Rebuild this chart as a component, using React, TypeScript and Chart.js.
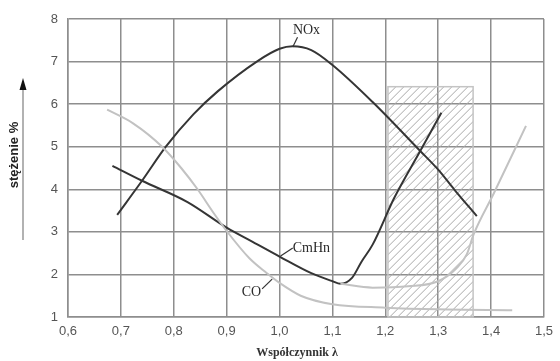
import { useEffect, useRef } from 'react';
import { Chart, registerables } from 'chart.js';
Chart.register(...registerables);

// ---- data ----
const xRange = [0.6, 1.5];
const yRange = [1, 8];

const noxX = [0.693, 0.74, 0.785, 0.837, 0.883, 0.957, 1.0, 1.025, 1.06, 1.1, 1.176, 1.266, 1.3, 1.33, 1.373];
const noxY = [3.4, 4.2, 5.0, 5.76, 6.3, 7.0, 7.3, 7.36, 7.27, 6.92, 6.05, 4.9, 4.46, 4.0, 3.37];

const cmhnX = [0.684, 0.74, 0.826, 0.9, 0.95, 1.0, 1.06, 1.1, 1.115, 1.137, 1.155, 1.176, 1.217, 1.266, 1.306];
const cmhnY = [4.55, 4.2, 3.7, 3.1, 2.76, 2.42, 2.03, 1.84, 1.78, 1.92, 2.3, 2.7, 3.8, 4.9, 5.8];

const coX = [0.674, 0.723, 0.778, 0.814, 0.845, 0.875, 0.9, 0.943, 0.976, 1.0, 1.04, 1.1, 1.2, 1.3, 1.44];
const coY = [5.87, 5.55, 5.0, 4.5, 4.0, 3.45, 3.02, 2.38, 2.03, 1.8, 1.5, 1.3, 1.22, 1.18, 1.16];

const leanX = [1.115, 1.176, 1.243, 1.3, 1.335, 1.354, 1.367, 1.405, 1.466];
const leanY = [1.78, 1.69, 1.72, 1.84, 2.15, 2.47, 2.94, 3.9, 5.49];

const hatchX = [1.205, 1.366];
const hatchY = [1, 6.41];

const labelTexts = ['NOx', 'CmHn', 'CO'];
const labelX = [1.051, 1.025, 0.947];
const labelY = [7.74, 2.62, 1.57];
const labelAlign = ['center', 'left', 'center'];
const leaderFromX = [1.025, 1.002, 0.967];
const leaderFromY = [7.34, 2.43, 1.66];
const leaderToX = [1.034, 1.025, 0.986];
const leaderToY = [7.57, 2.62, 1.89];

const xTitle = 'Współczynnik λ';
const yTitle = 'stężenie %';

const pts = (xs: number[], ys: number[]) => xs.map((x, i) => ({ x, y: ys[i] }));

const annotations = {
  id: 'annotations',
  beforeDatasetsDraw(chart: any) {
    const { ctx, scales } = chart;
    const x = scales.x, y = scales.y;
    const l = x.getPixelForValue(hatchX[0]);
    const r = x.getPixelForValue(hatchX[1]);
    const t = y.getPixelForValue(hatchY[1]);
    const b = y.getPixelForValue(hatchY[0]);
    ctx.save();
    ctx.beginPath();
    ctx.rect(l, t, r - l, b - t);
    ctx.clip();
    ctx.strokeStyle = '#a8a8a8';
    ctx.lineWidth = 1;
    ctx.beginPath();
    const h = b - t;
    for (let s = l - h; s < r + 8; s += 8) {
      ctx.moveTo(s, b);
      ctx.lineTo(s + h, t);
    }
    ctx.stroke();
    ctx.restore();
    ctx.save();
    ctx.strokeStyle = '#c4c4c4';
    ctx.lineWidth = 1.5;
    ctx.strokeRect(l, t, r - l, b - t);
    ctx.restore();
  },
  afterDatasetsDraw(chart: any) {
    const { ctx, scales } = chart;
    const x = scales.x, y = scales.y;
    ctx.save();
    ctx.strokeStyle = '#333';
    ctx.lineWidth = 1.2;
    for (let i = 0; i < labelTexts.length; i++) {
      ctx.beginPath();
      ctx.moveTo(x.getPixelForValue(leaderFromX[i]), y.getPixelForValue(leaderFromY[i]));
      ctx.lineTo(x.getPixelForValue(leaderToX[i]), y.getPixelForValue(leaderToY[i]));
      ctx.stroke();
    }
    ctx.fillStyle = '#2a2a2a';
    ctx.font = '14px "Liberation Serif", "DejaVu Serif", serif';
    ctx.textBaseline = 'middle';
    for (let i = 0; i < labelTexts.length; i++) {
      ctx.textAlign = labelAlign[i] as CanvasTextAlign;
      ctx.fillText(labelTexts[i], x.getPixelForValue(labelX[i]), y.getPixelForValue(labelY[i]));
    }
    ctx.restore();
  },
  afterDraw(chart: any) {
    const { ctx } = chart;
    ctx.save();
    // y title
    ctx.translate(14, 155);
    ctx.rotate(-Math.PI / 2);
    ctx.fillStyle = '#222';
    ctx.font = 'bold 13px "Liberation Sans", Arial, sans-serif';
    ctx.textAlign = 'center';
    ctx.textBaseline = 'middle';
    ctx.fillText(yTitle, 0, 0);
    ctx.restore();
    // arrow
    ctx.save();
    ctx.strokeStyle = '#999';
    ctx.lineWidth = 1.5;
    ctx.beginPath();
    ctx.moveTo(23, 240);
    ctx.lineTo(23, 88);
    ctx.stroke();
    ctx.fillStyle = '#111';
    ctx.beginPath();
    ctx.moveTo(23, 78);
    ctx.lineTo(19.5, 90);
    ctx.lineTo(26.5, 90);
    ctx.closePath();
    ctx.fill();
    ctx.restore();
    // x title
    ctx.save();
    ctx.fillStyle = '#333';
    ctx.font = 'bold 12px "Liberation Serif", "DejaVu Serif", serif';
    ctx.textAlign = 'center';
    ctx.textBaseline = 'middle';
    ctx.fillText(xTitle, 297, 353);
    ctx.restore();
  },
};

export default function App() {
  const ref = useRef<HTMLCanvasElement>(null);
  useEffect(() => {
    document.body.style.margin = '0';
    const dark = '#353535';
    const light = '#c2c2c2';
    const ds = (data: any, color: string) => ({
      data,
      borderColor: color,
      borderWidth: 2,
      pointRadius: 0,
      fill: false,
      cubicInterpolationMode: 'monotone' as const,
    });
    const chart = new Chart(ref.current!, {
      type: 'line',
      data: {
        datasets: [
          ds(pts(coX, coY), light),
          ds(pts(leanX, leanY), light),
          ds(pts(noxX, noxY), dark),
          ds(pts(cmhnX, cmhnY), dark),
        ],
      },
      options: {
        animation: false,
        responsive: false,
        layout: { padding: { top: 19, right: 14, left: 0, bottom: 0 } },
        plugins: { legend: { display: false }, tooltip: { enabled: false } },
        scales: {
          x: {
            type: 'linear',
            min: xRange[0],
            max: xRange[1],
            ticks: {
              stepSize: 0.1,
              padding: 7,
              color: '#555',
              font: { family: '"Liberation Sans", Arial, sans-serif', size: 13 },
              callback: (v: any) => Number(v).toFixed(1).replace('.', ','),
            },
            grid: { color: '#8e8e8e', lineWidth: 1.5, drawTicks: false },
            border: { color: '#8e8e8e', width: 1.5 },
            afterFit: (s: any) => { s.height = 44; },
          },
          y: {
            type: 'linear',
            min: yRange[0],
            max: yRange[1],
            ticks: {
              stepSize: 1,
              padding: 10,
              color: '#555',
              font: { family: '"Liberation Sans", Arial, sans-serif', size: 13 },
            },
            grid: { color: '#8e8e8e', lineWidth: 1.5, drawTicks: false },
            border: { color: '#8e8e8e', width: 1.5 },
            afterFit: (s: any) => { s.width = 68; },
          },
        },
      },
      plugins: [annotations],
    });
    return () => chart.destroy();
  }, []);
  return (
    <div style={{ width: 560, height: 361 }}>
      <canvas ref={ref} width={560} height={361} />
    </div>
  );
}
